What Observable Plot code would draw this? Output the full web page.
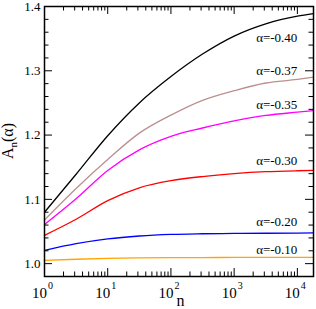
<!DOCTYPE html>
<html>
<head>
<meta charset="utf-8">
<script src="https://cdn.jsdelivr.net/npm/d3@7"></script>
<script src="https://cdn.jsdelivr.net/npm/@observablehq/plot@0.6"></script>
<style>
  html, body { margin: 0; padding: 0; background: white; }
  #chart svg, #chart svg text, #chart svg tspan { font-family: "Liberation Serif", serif !important; }
</style>
</head>
<body>
<div id="chart"></div>
<script>
// ---- data ----
const nValues = [1, 3.162, 10, 31.62, 100, 316.2, 1000, 3162, 10000, 18000];
const seriesLabels = ["α=-0.40", "α=-0.37", "α=-0.35", "α=-0.30", "α=-0.20", "α=-0.10"];
const aM040 = [1.080, 1.139, 1.199, 1.250, 1.291, 1.326, 1.354, 1.373, 1.385, 1.389];
const aM037 = [1.068, 1.117, 1.162, 1.203, 1.231, 1.254, 1.269, 1.281, 1.2865, 1.290];
const aM035 = [1.061, 1.101, 1.145, 1.177, 1.198, 1.211, 1.222, 1.2305, 1.2356, 1.238];
const aM030 = [1.044, 1.069, 1.098, 1.118, 1.129, 1.1355, 1.140, 1.143, 1.1445, 1.145];
const aM020 = [1.0207, 1.031, 1.0385, 1.043, 1.0455, 1.0465, 1.047, 1.0473, 1.0476, 1.0478];
const aM010 = [1.005, 1.0068, 1.0082, 1.0089, 1.0093, 1.0095, 1.0096, 1.0097, 1.0098, 1.0098];
const labelY = [1.3507, 1.3005, 1.2471, 1.1597, 1.0645, 1.0222];
const xMajor = [1, 10, 100, 1000, 10000];
const yMajor = [1.0, 1.1, 1.2, 1.3, 1.4];

const series = [aM040, aM037, aM035, aM030, aM020, aM010];
const colors = ["#000000", "#bc8f8f", "#ff00ff", "#ff0000", "#0000ff", "#ffa500"];

const xMinor = d3.range(0, 5).flatMap(k => d3.range(2, 10).map(m => m * Math.pow(10, k))).filter(v => v < 18000);
const yMinor = d3.range(1, 20).filter(i => i % 5 !== 0).map(i => 1 + i * 0.02);

const W = 316, H = 309, mL = 44, mR = 3, mT = 6, mB = 33;
const pw = W - mL - mR, ph = H - mT - mB;
const LM = 8, Lm = 4.5;
const font = "Liberation Serif";

const marks = [];
series.forEach((s, i) => {
  marks.push(Plot.line(nValues, {x: d => d, y: (d, j) => s[j], stroke: colors[i], strokeWidth: 1.3, curve: "monotone-x"}));
});
// ticks (inward, on all four sides)
marks.push(
  Plot.tickY(yMajor, {y: d => d, insetRight: pw - LM, stroke: "black"}),
  Plot.tickY(yMajor, {y: d => d, insetLeft: pw - LM, stroke: "black"}),
  Plot.tickY(yMinor, {y: d => d, insetRight: pw - Lm, stroke: "black"}),
  Plot.tickY(yMinor, {y: d => d, insetLeft: pw - Lm, stroke: "black"}),
  Plot.tickX(xMajor, {x: d => d, insetTop: ph - LM, stroke: "black"}),
  Plot.tickX(xMajor, {x: d => d, insetBottom: ph - LM, stroke: "black"}),
  Plot.tickX(xMinor, {x: d => d, insetTop: ph - Lm, stroke: "black"}),
  Plot.tickX(xMinor, {x: d => d, insetBottom: ph - Lm, stroke: "black"}),
  Plot.frame({stroke: "black", strokeWidth: 1.5})
);
// tick labels
marks.push(
  Plot.text(yMajor, {y: d => d, frameAnchor: "left", dx: -4, textAnchor: "end", text: d => d.toFixed(1), fontSize: 13, fill: "black"}),
  Plot.text(xMajor, {x: d => d, frameAnchor: "bottom", text: () => "10", textAnchor: "end", dx: 2.5, lineAnchor: "top", dy: 10.8, fontSize: 15, fill: "black"}),
  Plot.text(xMajor, {x: d => d, frameAnchor: "bottom", text: d => String(Math.round(Math.log10(d))), textAnchor: "start", dx: 3.5, lineAnchor: "top", dy: 5.4, fontSize: 10, fill: "black"}),
  Plot.text(["n"], {frameAnchor: "bottom", text: d => d, lineAnchor: "top", dy: 18.6, dx: 1.5, fontSize: 16, fill: "black"})
);
// series labels
marks.push(
  Plot.text(seriesLabels, {x: () => 10000, y: (d, i) => labelY[i], text: d => d, textAnchor: "end", fontSize: 13, fill: "black"})
);

const chart = Plot.plot({
  width: W, height: H,
  marginLeft: mL, marginRight: mR, marginTop: mT, marginBottom: mB,
  x: {type: "log", domain: [1, 18000], axis: null},
  y: {domain: [0.98, 1.4], axis: null},
  style: {fontFamily: font, background: "white", color: "black"},
  marks
});

// y axis title A_n(α)
const svg = d3.select(chart);
const t = svg.append("text")
  .attr("transform", "translate(13,141) rotate(-90)")
  .attr("text-anchor", "middle")
  .attr("font-family", font)
  .attr("font-size", 16)
  .attr("fill", "black");
t.append("tspan").text("A");
t.append("tspan").attr("font-size", 11).attr("dy", 4).text("n");
t.append("tspan").attr("dy", -4).text("(α)");

document.getElementById("chart").appendChild(chart);
</script>
</body>
</html>
